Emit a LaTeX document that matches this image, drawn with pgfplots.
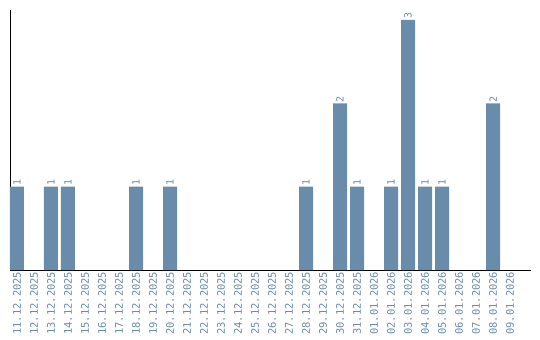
\documentclass[border=0pt]{standalone}
\usepackage{pgfplots}
\pgfplotsset{compat=1.18}
\usepackage{fontspec}
\setmainfont{DejaVu Sans Mono}
\setmonofont{DejaVu Sans Mono}
\definecolor{barc}{HTML}{6A8CAB}
\begin{document}
\begin{tikzpicture}
\useasboundingbox (0,0) rectangle (540bp,340bp);
\begin{axis}[
  at={(10bp,70bp)}, anchor=south west,
  scale only axis, width=521bp, height=260bp,
  xmin=-0.41, xmax=30.23, ymin=0, ymax=3.12,
  axis x line*=bottom, axis y line*=left,
  axis line style={black, line width=1pt},
  ytick=\empty,
  xtick={0,...,29},
  xticklabels={11.12.2025,12.12.2025,13.12.2025,14.12.2025,15.12.2025,16.12.2025,17.12.2025,18.12.2025,19.12.2025,20.12.2025,21.12.2025,22.12.2025,23.12.2025,24.12.2025,25.12.2025,26.12.2025,27.12.2025,28.12.2025,29.12.2025,30.12.2025,31.12.2025,01.01.2026,02.01.2026,03.01.2026,04.01.2026,05.01.2026,06.01.2026,07.01.2026,08.01.2026,09.01.2026},
  xticklabel style={rotate=90, anchor=east, font=\fontsize{10.5}{11}\selectfont, text=barc, inner sep=1.5bp},
  major tick length=0pt,
  ybar, bar width=14bp, bar shift=0pt,
  nodes near coords,
  nodes near coords style={rotate=90, anchor=west, font=\fontsize{10}{11}\selectfont, text=barc, inner sep=1bp},
  /pgf/number format/assume math mode=true,
  clip=false,
]
\addplot[fill=barc, draw=none] coordinates {
(0,1) (2,1) (3,1) (7,1) (9,1) (17,1) (19,2) (20,1) (22,1) (23,3) (24,1) (25,1) (28,2)
};
\end{axis}
\end{tikzpicture}
\end{document}
